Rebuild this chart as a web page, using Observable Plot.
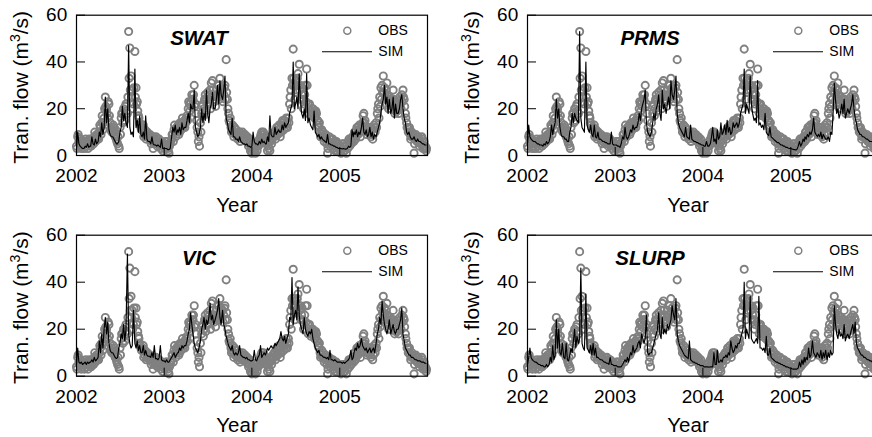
<!DOCTYPE html>
<html><head><meta charset="utf-8">
<script src="https://cdn.jsdelivr.net/npm/d3@7"></script>
<script src="https://cdn.jsdelivr.net/npm/@observablehq/plot@0.6"></script>
<style>
html,body{margin:0;padding:0;background:#fff;}
#wrap{position:relative;width:872px;height:437px;overflow:hidden;background:#fff;font-family:"Liberation Sans",Arial,sans-serif;}
.panel{position:absolute;width:440px;}
.panel svg{max-width:none !important;}
</style></head><body><div id="wrap"></div>
<script>
// sampling: 6 readings per month (days 1,6,11,16,21,26) and an interleaved set (days 3,8,13,18,23,28)
const years = [2002, 2003, 2004, 2005];
const sampleDays = [1, 6, 11, 16, 21, 26];
const sampleDaysB = [3, 8, 13, 18, 23, 28];
const yTicks = [0, 20, 40, 60];
const xTickYears = [2002, 2003, 2004, 2005];
const models = ["SWAT", "PRMS", "VIC", "SLURP"];
const legendLabels = ["OBS", "SIM"];
const yLabel = ["Tran. flow (m", "3", "/s)"];
const xLabel = "Year";

const obsFlow = [
  // 2002
  4,8,6,5,3,4, 5,6,4,5,6,5, 6,5,7,8,6,9, 8,10,12,14,11,16, 25,20,16,22,14,12, 10,12,8,7,5,4,
  12,16,18,20,15,22, 18,53,46,34,28,22, 44.5,29,23,17,14,12, 11,13,9,10,8,9, 7,8,6,3,7,6, 6,5,7,6,4,2,
  // 2003
  5,4,6,3,1,5, 7,9,11,10,12,11, 12,10,13,14,12,15, 14,17,20,22,23,26, 24,30,22,15,10,8, 14,18,22,20,26,24,
  27,24,28,31,32,26, 24,28,26,30,33,29, 28,26,30,41,24,18, 14,12,11,10,12,9, 9,8,10,8,7,9, 7,8,6,7,5,2,
  // 2004
  1,3,5,1,4,6, 7,8,10,7,9,6, 5,2,6,2,8,7, 8,10,9,12,11,10, 12,14,13,15,12,14, 16,22,28,33,45.5,30,
  32,28,35,39,30,26, 24,22,30,37,22,20, 19,18,20,19,17,18, 15,12,10,9,8,8, 7,8,1,6,7,5, 5,3,6,4,2,5,
  // 2005
  4,1,3,5,2,4, 5,6,4,7,6,8, 8,10,9,12,11,10, 12,14,18,15,11,10, 10,12,8,11,9,12, 14,18,22,25,29,30,
  34,29,25,31,24,22, 20,24,28,22,19,21, 20,22,24,26,28,24, 18,14,12,10,9,8, 9,1,7,8,6,7, 6,5,7,4,3,2
];

const obsFlowB = [
  // 2002
  3,9,5,7,4,6, 3,7,6,3,7,4, 4,7,5,10,8,7, 7,13,9,17,14,20, 21,18,23,17,11,10, 13,9,11,6,8,3,
  9,18,14,17,21,19, 25,33,28,25,20,29, 25,22,19,16,13,11, 12,8,11,7,10,8, 9,5,7,8,5,8, 4,7,5,3,6,4,
  // 2003
  3,6,4,2,4,6, 9,6,13,8,10,13, 9,14,11,16,13,12, 16,15,23,19,21,24, 26,21,18,12,6,4, 10,21,17,24,19,22,
  22,26,20,25,28,23, 21,25,30,24,27,25, 23,29,24,27,20,15, 16,10,13,8,9,11, 7,10,6,9,10,7, 9,6,8,4,7,3,
  // 2004
  4,2,2,5,2,4, 5,9,7,10,6,8, 7,4,3,6,5,9, 10,7,12,9,13,8, 10,15,11,13,16,12, 14,25,20,30,33,24,
  27,33,30,28,24,29, 20,26,23,30,18,22, 17,20,18,16,19,15, 13,14,8,11,10,6, 9,5,3,8,4,7, 7,4,2,6,5,3,
  // 2005
  2,3,5,2,4,1, 3,7,6,5,8,6, 10,7,12,9,13,8, 13,17,14,12,9,12, 12,9,11,7,13,10, 12,20,16,21,24,27,
  27,24,28,26,20,25, 23,21,24,18,23,19, 18,25,20,23,25,21, 16,12,10,12,7,10, 8,5,9,6,8,4, 5,8,3,6,4,3
];

const swatSim = [
  3,10,5,4,3.5,3, 3,4,3.5,5,3.5,4, 4,8,5,4.5,7,5, 6,10,8,14,9,12, 25,14,20,11,9,8, 8,7,6,5,5,6,
  10,12,21,15,18,14, 12,47,12,9,10,8, 37,12,15,10,17,9, 8,10,7,17,7,6, 6,5,8,5,4.5,4.5, 4,4.5,4,3.5,7,3,
  3,3,3,2.5,2.5,3, 8,12,10,13,9,11, 10,12,9,14,11,12, 12,15,18,14,22,20, 20,28,12,10,8,9, 12,20,14,18,15,28,
  18,14,20,22,27,20, 20,24,30,22,32,26, 24,28,34,16,14,11, 10,9,16,8,8,7, 7,6,8,6,5.5,5, 5,4.5,5,4,4,3.5,
  4,10,6,5,5,4.5, 6,5,7,5.5,6,5, 5,8,6,17,9,8, 8,12,9,10,11,10, 10,13,11,14,12,13, 14,18,20,22,40,20,
  22,25,20,35,24,18, 16,20,15,35,14,16, 13,12,11,19,10,9, 8,9,7,8,7,6.5, 6,5.5,9,5,5,4.5, 4.5,4,4,3.5,3.5,3,
  3,3,2.8,3,2.8,2.7, 3,4,3.5,4,11,8, 10,9,11,8,10,9, 12,16,10,9,11,8, 9,12,8,10,7,9, 8,10,12,14,18,22,
  24,30,22,25,18,24, 18,20,25,16,22,18, 18,20,24,26,20,16, 14,10,9,10,8,7, 7,8,6.5,6,7,6, 6,5.5,5,5,4.5,4.5
];

const prmsSim = [
  5,13,8,7,6.5,6, 6,5.5,5,5,4.5,4.5, 4.5,4,5,4.5,6,5, 6,8,13,9,12,14, 24,16,20,12,9,8, 8,7,7,6,6,10,
  12,18,14,18,16,15, 14,53,16,12,11,10, 40,13,11,10,13,9, 8,13,8,7.5,10,7, 7,6.5,6,6,5.5,5.5, 5,5,5,10,5,4.5,
  4.5,4.5,4,4,3.5,5, 8,7,12,8,7,8, 9,11,10,13,11,12, 12,14,18,15,20,22, 24,28,14,10,9,8, 10,14,18,15,20,22,
  26,18,15,28,20,22, 18,22,25,20,32,26, 24,28,34,18,14,12, 11,10,9,8,12,8, 7.5,7,13,7,6.5,6, 6,5.5,5.5,5,5,4.5,
  4.5,4,4,6,4,4, 5,8,12,6,7,5, 11,7,8,14,9,10, 13,9,15,10,12,9, 10,14,12,13,14,12, 14,18,20,22,37,18,
  22,20,18,34,22,18, 15,16,14,32,13,14, 12,13,11,18,10,9, 8.5,12,8,7.5,7,6.5, 6,5.5,5.5,5,4.5,4.5, 4,4,3.5,3.5,3.2,3,
  3,2.8,2.6,2.5,2.4,2.5, 4,6,4,5,7,6, 8,7,9,8,10,9, 11,16,10,9,8,9, 8,10,7,9,8,7, 7,8,6,10,9,18,
  31,24,18,20,16,18, 22,18,24,16,18,20, 18,20,22,26,20,16, 14,11,10,9,9,8, 8,7.5,7,7,6.5,6, 6,6,5.5,5.5,5,5
];

const vicSim = [
  5,12,6,5.5,6,5, 5.5,6,5,6,5.5,6, 6,7,6,8,6.5,7, 8,15,10,18,12,20, 25,18,23,14,11,10, 10,9,8,7.5,8,12,
  14,18,16,22,15,20, 52,18,14,12,13,28, 14,12,15,11,13,10, 10,13,9,11,9,8.5, 8.5,8,10,8,13,7.5, 7.5,7,8,13,7,6.5,
  6.5,6,7,6,6,7, 8,9,10,8,9,10, 10,12,11,13,12,13, 13,15,18,20,27,22, 18,14,12,11,10,12, 15,20,22,25,20,24,
  22,25,31,24,26,22, 24,26,28,33,25,22, 28,22,20,17,15,13, 12,11,13,10,9,10, 9,10,13,9,8.5,8, 8,7.5,8,7,7,6.5,
  6.5,7,11,7,6.5,8, 9,13,8,9,10,9, 10,12,11,12,13,12, 12,14,13,14,15,16, 19,16,15,17,14,16, 18,25,24,42,22,26,
  28,24,38,26,22,20, 18,25,20,18,17,19, 18,20,16,14,12,11, 10,11,9,9,8.5,8, 8,7.5,8,7,11,7, 7,6.5,7,6.5,6,6,
  6,6,5.5,6,5.5,6, 6.5,7,8,11,7,8, 10,12,11,14,12,13, 16,13,12,11,12,10, 11,12,10,11,12,10, 14,18,20,25,22,32,
  26,22,20,18,20,24, 18,20,22,19,18,20, 20,22,24,29,18,15, 12,11,10,9,9,8, 8,7.5,7,7,6.5,6.5, 6.5,6,6,6,5.5,5.5
];

const slurpSim = [
  5,8,12,8,7,6.5, 6,6,5.5,5,5,4.5, 4.5,4.5,4,4,5,4, 5,8,6,13,7,9, 24,12,20,10,9,14, 8,7.5,14,7,6.5,9,
  12,10,15,20,12,17, 14,16,46,14,12,11, 35,12,11,10,13,9, 14,9,12,8,8,7.5, 7,7,6.5,6,6,5.5, 5.5,5,8,5,5,4.5,
  4.5,4.5,4,4,4,4, 5,6,7,6,8,6, 8,10,9,13,10,11, 12,14,15,12,18,16, 14,16,26,10,9,10, 10,12,14,16,18,20,
  27,18,16,25,18,20, 18,22,20,22,24,30, 26,24,33,18,15,13, 12,11,10,9,8.5,8, 7.5,15,7,6.5,6,6, 5.5,5.5,5,5,4.5,4.5,
  4.5,4,4,4,4,3.8, 4,4,4,10,5,5, 11,6,6,7,6,8, 8,9,8,10,9,15, 12,10,11,13,12,14, 14,16,18,20,40,16,
  20,18,16,34,16,15, 14,15,16,14,34,12, 12,11,12,10,17,9, 9,12,8,7.5,7,6.5, 6,6,5.5,5.5,5,5, 4.5,4.5,4,4,3.8,3.5,
  3.5,3.2,3,3,3,3, 3.5,6,4,7,5,8, 6,8,7,12,8,9, 15,10,9,8,10,9, 8,11,7,10,8,11, 7,10,8,11,9,10,
  30,22,18,16,20,17, 18,16,22,15,17,18, 16,18,20,22,18,23, 14,12,11,10,9,9, 8,8,7.5,7,7,6.5, 6.5,6,6,6,5.5,5.5
];

const simByModel = {SWAT: swatSim, PRMS: prmsSim, VIC: vicSim, SLURP: slurpSim};

function makeDates(days) {
  const out = [];
  for (const y of years) for (let m = 0; m < 12; m++) for (const d of days) out.push(new Date(Date.UTC(y, m, d)));
  return out;
}
const dates = makeDates(sampleDays);
const datesB = makeDates(sampleDaysB);
const toRows = (arr, ds) => ds.map((date, i) => ({date, v: arr[i]})).filter(r => r.v != null);
const obsRows = toRows(obsFlow, dates).concat(toRows(obsFlowB, datesB)).sort((a, b) => a.date - b.date);
const xTickDates = xTickYears.map(y => new Date(Date.UTC(y, 0, 1)));
const xDomain = [new Date(Date.UTC(2002, 0, 1)), new Date(Date.UTC(2006, 0, 1))];

const layout = [
  {left: 0,   top: 0,   h: 220, plotH: 140.3},
  {left: 451, top: 0,   h: 220, plotH: 140.3},
  {left: 0,   top: 220, h: 217, plotH: 141},
  {left: 451, top: 220, h: 217, plotH: 141}
];
const ML = 76, MT = 14.7, PW = 351, W = 440;
const font = "'Liberation Sans', Arial, Helvetica, sans-serif";
const wrap = document.getElementById("wrap");
const grey = "#808080";

models.forEach((name, i) => {
  const L = layout[i];
  const mb = L.h - MT - L.plotH;
  const chart = Plot.plot({
    width: W, height: L.h,
    marginLeft: ML, marginRight: W - ML - PW, marginTop: MT, marginBottom: mb,
    style: {fontFamily: font, fontSize: "19px", color: "black", background: "transparent", overflow: "visible", maxWidth: "none"},
    x: {type: "utc", domain: xDomain},
    y: {domain: [0, 60]},
    marks: [
      Plot.dot(obsRows, {x: "date", y: "v", r: 3.6, stroke: grey, strokeWidth: 1.9, fill: "none"}),
      Plot.line(toRows(simByModel[name], dates), {x: "date", y: "v", stroke: "black", strokeWidth: 1.15}),
      Plot.tickX(xTickDates, {x: d => d, insetTop: L.plotH - 8, stroke: "black"}),
      Plot.tickY(yTicks, {y: d => d, insetRight: PW - 9, stroke: "black"}),
      Plot.frame({stroke: "black", strokeWidth: 1.2}),
      Plot.axisX({ticks: xTickDates, tickSize: 0, tickPadding: 13, tickFormat: d => String(d.getUTCFullYear()), label: null, fontSize: 19}),
      Plot.axisY({ticks: yTicks, tickSize: 0, tickPadding: 9.3, label: null, fontSize: 19}),
      Plot.text([name], {text: d => d, frameAnchor: "top-left", dx: 122.5, dy: 30, lineAnchor: "bottom", textAnchor: "middle", fontSize: 20.5, fontWeight: "bold", fontStyle: "italic"})
    ]
  });
  const svg = d3.select(chart);
  // legend
  svg.append("circle").attr("cx", ML + 271.3).attr("cy", MT + 16).attr("r", 3.5)
    .attr("fill", "none").attr("stroke", grey).attr("stroke-width", 1.5);
  svg.append("text").attr("x", ML + 302.3).attr("y", MT + 20.5).attr("font-size", 14)
    .attr("text-anchor", "start").text(legendLabels[0]);
  svg.append("line").attr("x1", ML + 246).attr("x2", ML + 296).attr("y1", MT + 37).attr("y2", MT + 37)
    .attr("stroke", "black").attr("stroke-width", 1.1);
  svg.append("text").attr("x", ML + 302.3).attr("y", MT + 41.5).attr("font-size", 14)
    .attr("text-anchor", "start").text(legendLabels[1]);
  // y label
  const yl = svg.append("text").attr("font-size", 21).attr("text-anchor", "middle")
    .attr("transform", `translate(28,${MT + L.plotH / 2 + 2.5}) rotate(-90)`);
  yl.append("tspan").text(yLabel[0]);
  yl.append("tspan").attr("font-size", 14).attr("dy", -8).text(yLabel[1]);
  yl.append("tspan").attr("dy", 8).text(yLabel[2]);
  // x label
  svg.append("text").attr("font-size", 20.5).attr("text-anchor", "middle")
    .attr("x", ML + 161).attr("y", MT + L.plotH + 56.5).text(xLabel);

  const div = document.createElement("div");
  div.className = "panel";
  div.style.left = L.left + "px";
  div.style.top = L.top + "px";
  div.appendChild(chart);
  wrap.appendChild(div);
});
</script></body></html>
